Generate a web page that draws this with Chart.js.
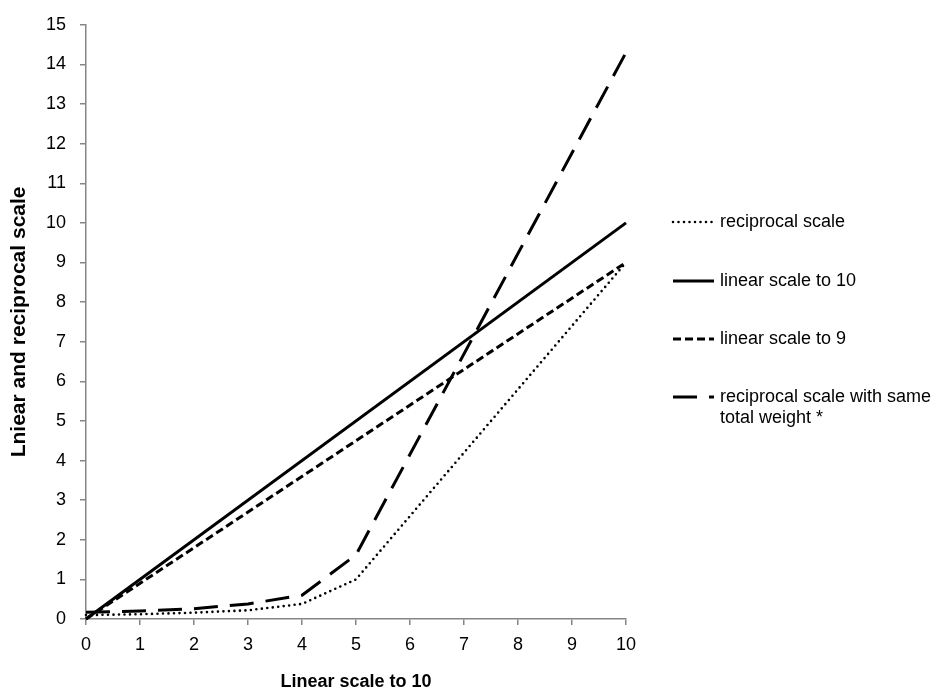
<!DOCTYPE html>
<html>
<head>
<meta charset="utf-8">
<script src="https://cdn.jsdelivr.net/npm/chart.js@4"></script>
<style>
  html, body { margin: 0; padding: 0; background: #fff; }
  #wrap { position: relative; width: 947px; height: 695px; }
</style>
</head>
<body>
<div id="wrap"><canvas id="chart" width="947" height="695"></canvas></div>
<script>
// x positions where the curves bend
const xPoints = [0, 1, 2, 3, 4, 5, 10];
const reciprocal = [0.1, 0.12, 0.16, 0.22, 0.38, 1.0, 9.0];
const reciprocalSameWeight = [0.17, 0.2, 0.26, 0.38, 0.6, 1.62, 14.3];

const linearX = [0, 10];
const linear10 = [0, 10];
const linear9 = [0, 9];

const xTicks = [0, 1, 2, 3, 4, 5, 6, 7, 8, 9, 10];
const yTicks = [0, 1, 2, 3, 4, 5, 6, 7, 8, 9, 10, 11, 12, 13, 14, 15];

const seriesNames = [
  "reciprocal scale",
  "linear scale to 10",
  "linear scale to 9",
  ["reciprocal scale with same", "total weight *"],
];

const FONT = "'Liberation Sans', Arial, sans-serif";
const AXIS_GRAY = "#868686";

function toPoints(xs, ys) {
  return xs.map((x, i) => ({ x: x, y: ys[i] }));
}

// styles used both on the plot and in the legend
const styles = [
  { dash: [0, 5.5], cap: "round", width: 2.6 },
  { dash: [], cap: "butt", width: 3 },
  { dash: [8, 4], cap: "butt", width: 3 },
  { dash: [24, 12], cap: "butt", width: 3 },
];

// Legend drawn at the right like the original spreadsheet chart
const sideLegend = {
  id: "sideLegend",
  afterDraw(chart) {
    const ctx = chart.ctx;
    const rows = [222, 281, 339, 397];
    ctx.save();
    seriesNames.forEach((name, i) => {
      const st = styles[i];
      const y = rows[i];
      ctx.beginPath();
      ctx.strokeStyle = "#000";
      ctx.lineWidth = st.width;
      ctx.lineCap = st.cap;
      ctx.setLineDash(st.dash);
      ctx.moveTo(673, y);
      ctx.lineTo(714, y);
      ctx.stroke();
      ctx.setLineDash([]);
      ctx.fillStyle = "#000";
      ctx.font = "18px " + FONT;
      ctx.textBaseline = "middle";
      const lines = Array.isArray(name) ? name : [name];
      lines.forEach((t, j) => ctx.fillText(t, 720, y + j * 21));
    });
    ctx.restore();
  },
};

const datasets = [
  { label: "reciprocal scale", data: toPoints(xPoints, reciprocal) },
  { label: "linear scale to 10", data: toPoints(linearX, linear10) },
  { label: "linear scale to 9", data: toPoints(linearX, linear9) },
  { label: "reciprocal scale with same total weight *", data: toPoints(xPoints, reciprocalSameWeight) },
].map((d, i) => ({
  ...d,
  borderColor: "#000",
  borderWidth: styles[i].width,
  borderDash: styles[i].dash,
  borderCapStyle: styles[i].cap,
  pointRadius: 0,
  tension: 0,
  fill: false,
  clip: false,
}));

new Chart(document.getElementById("chart"), {
  type: "scatter",
  data: { datasets: datasets },
  options: {
    responsive: false,
    animation: false,
    showLine: true,
    layout: { padding: { left: 0, top: 19, right: 321, bottom: 0 } },
    plugins: { legend: { display: false }, tooltip: { enabled: false } },
    scales: {
      x: {
        type: "linear",
        min: 0,
        max: 10,
        afterFit(scale) { scale.height = 76; },
        afterBuildTicks(scale) { scale.ticks = xTicks.map((v) => ({ value: v })); },
        grid: { drawOnChartArea: false, drawTicks: true, tickLength: 6, color: AXIS_GRAY, lineWidth: 1.5 },
        border: { display: true, color: AXIS_GRAY, width: 1.5 },
        ticks: { color: "#000", font: { family: FONT, size: 18 }, padding: 9, maxRotation: 0 },
        title: {
          display: true,
          text: "Linear scale to 10",
          color: "#000",
          font: { family: FONT, size: 18, weight: "bold" },
          padding: { top: 0, bottom: 2 },
        },
      },
      y: {
        type: "linear",
        min: 0,
        max: 15,
        afterFit(scale) { scale.width = 86; },
        afterBuildTicks(scale) { scale.ticks = yTicks.map((v) => ({ value: v })); },
        grid: { drawOnChartArea: false, drawTicks: true, tickLength: 6, color: AXIS_GRAY, lineWidth: 1.5 },
        border: { display: true, color: AXIS_GRAY, width: 1.5 },
        ticks: { color: "#000", font: { family: FONT, size: 18 }, padding: 14 },
        title: {
          display: true,
          text: "Lniear and reciprocal scale",
          color: "#000",
          font: { family: FONT, size: 21, weight: "bold" },
          padding: { top: 7, bottom: 0 },
        },
      },
    },
  },
  plugins: [sideLegend],
});
</script>
</body>
</html>
